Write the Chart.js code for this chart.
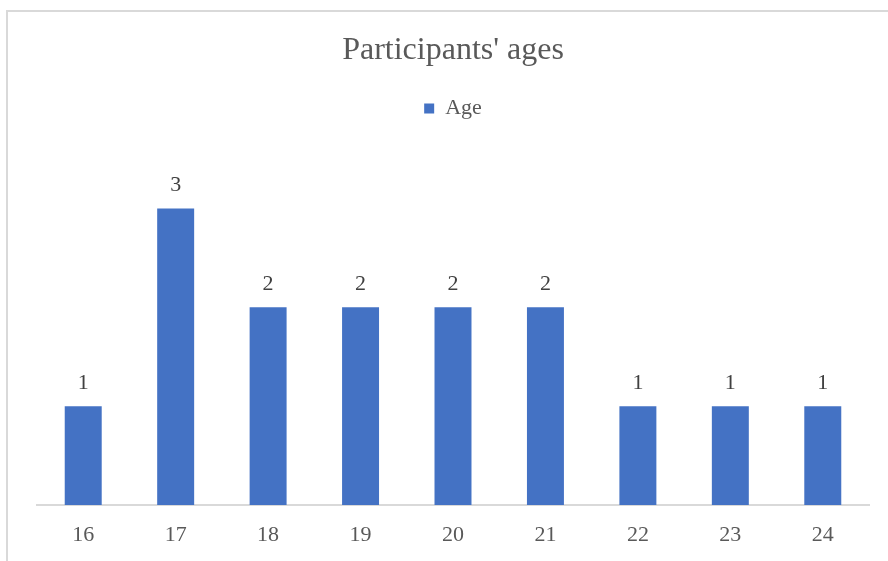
<!DOCTYPE html>
<html>
<head>
<meta charset="utf-8">
<script src="https://cdn.jsdelivr.net/npm/chart.js@4.4.0/dist/chart.umd.min.js"></script>
<style>
  html, body { margin: 0; padding: 0; background: #fff; overflow: hidden; }
  #frame { position: absolute; left: 6px; top: 10px; width: 900px; height: 600px; border: 2px solid #d9d9d9; box-sizing: border-box; }
  #wrap { position: absolute; left: 0; top: 0; width: 888px; height: 561px; }
</style>
</head>
<body>
<div id="frame"></div>
<div id="wrap"><canvas id="chartAge"></canvas></div>
<script>
var ages = ["16", "17", "18", "19", "20", "21", "22", "23", "24"];
var counts = [1, 3, 2, 2, 2, 2, 1, 1, 1];
var seriesName = "Age";
var chartTitle = "Participants' ages";

var serif = '"Liberation Serif", "Times New Roman", serif';

// values drawn above each bar
var barLabels = {
  id: 'barLabels',
  afterDatasetsDraw: function (chart) {
    var ctx = chart.ctx;
    var meta = chart.getDatasetMeta(0);
    ctx.save();
    ctx.font = '22px ' + serif;
    ctx.fillStyle = '#404040';
    ctx.textAlign = 'center';
    ctx.textBaseline = 'middle';
    meta.data.forEach(function (bar, i) {
      ctx.fillText(String(counts[i]), bar.x, bar.y - 23);
    });
    ctx.restore();
  }
};

var ctx1 = document.getElementById('chartAge').getContext('2d');
var chart1 = new Chart(ctx1, {
  type: 'bar',
  data: {
    labels: ages,
    datasets: [{
      label: seriesName,
      backgroundColor: '#4472c4',
      borderWidth: 0,
      data: counts,
      categoryPercentage: 1,
      barPercentage: 0.4
    }]
  },
  options: {
    responsive: true,
    maintainAspectRatio: false,
    animation: false,
    layout: { padding: { left: 37, right: 19, top: 0, bottom: 0 } },
    plugins: {
      title: {
        display: true,
        text: chartTitle,
        color: '#595959',
        font: { family: serif, size: 32, weight: 'normal' },
        padding: { top: 31, bottom: 18 }
      },
      legend: {
        display: true,
        labels: {
          color: '#595959',
          font: { family: serif, size: 22 },
          boxWidth: 10,
          boxHeight: 10,
          padding: 10
        }
      },
      tooltip: { enabled: false }
    },
    scales: {
      x: {
        grid: { display: false, drawTicks: false },
        border: { display: true, color: '#d9d9d9', width: 2 },
        ticks: {
          color: '#595959',
          padding: 17,
          font: { family: serif, size: 22 }
        },
        afterFit: function (scale) { scale.height = 56; }
      },
      y: {
        display: false,
        min: 0,
        max: 3.8
      }
    }
  },
  plugins: [barLabels]
});
</script>
</body>
</html>
